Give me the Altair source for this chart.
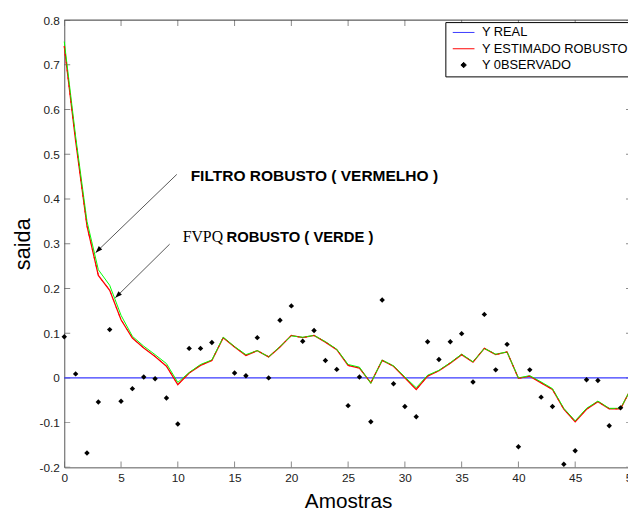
import altair as alt
import pandas as pd

# ---------------- data ----------------
x_vals = list(range(51))
red_vals = [0.742, 0.530, 0.340, 0.229, 0.196, 0.130, 0.089, 0.067, 0.048, 0.026,
            -0.015, 0.011, 0.028, 0.039, 0.090, 0.069, 0.050, 0.061, 0.047, 0.069,
            0.095, 0.090, 0.095, 0.080, 0.063, 0.028, 0.022, -0.011, 0.039, 0.026,
            0.000, -0.026, 0.004, 0.016, 0.033, 0.052, 0.035, 0.066, 0.052, 0.058,
            -0.001, 0.004, -0.011, -0.026, -0.070, -0.098, -0.070, -0.053, -0.069, -0.069,
            -0.020]
green_vals = [0.752, 0.540, 0.350, 0.242, 0.207, 0.140, 0.093, 0.071, 0.052, 0.032,
              -0.010, 0.012, 0.030, 0.040, 0.091, 0.070, 0.052, 0.061, 0.047, 0.070,
              0.094, 0.091, 0.095, 0.081, 0.064, 0.030, 0.024, -0.012, 0.040, 0.027,
              0.002, -0.022, 0.006, 0.017, 0.034, 0.053, 0.036, 0.066, 0.053, 0.058,
              0.000, 0.005, -0.009, -0.024, -0.068, -0.096, -0.068, -0.052, -0.068, -0.068,
              -0.020]
real_vals = [0.0] * 51
obs_x = [0, 1, 2, 3, 4, 5, 6, 7, 8, 9, 10, 11, 12, 13,
         15, 16, 17, 18, 19, 20, 21, 22, 23, 24, 25, 26, 27, 28, 29, 30,
         31, 32, 33, 34, 35, 36, 37, 38, 39, 40, 41, 42, 43, 44, 45, 46, 47, 48, 49]
obs_y = [0.092, 0.009, -0.168, -0.054, 0.108, -0.052, -0.024, 0.002, -0.002, -0.045,
         -0.103, 0.066, 0.066, 0.079,
         0.011, 0.005, 0.090, 0.000, 0.129, 0.161, 0.082, 0.106, 0.039, 0.019,
         -0.062, 0.002, -0.098, 0.174, -0.013, -0.064, -0.087, 0.081, 0.041, 0.081,
         0.099, -0.009, 0.142, 0.018, 0.075, -0.154, 0.018, -0.043, -0.064, -0.193,
         -0.163, -0.004, -0.006, -0.107, -0.067]
x_ticks = [0, 5, 10, 15, 20, 25, 30, 35, 40, 45, 50]
y_ticks = [-0.2, -0.1, 0.0, 0.1, 0.2, 0.3, 0.4, 0.5, 0.6, 0.7, 0.8]

series_names = ["Y REAL", "Y ESTIMADO ROBUSTO", "Y 0BSERVADO"]
series_colors = ["#3a3aff", "#ff0000", "#000000"]
LINE_SYM = "M-2,0L2,0"
DOT = "M0,-0.5L0.5,0L0,0.5L-0.5,0Z"
series_shapes = [LINE_SYM, LINE_SYM, DOT]

note_x = [11.13, 14.29]
note_y = [0.451, 0.315]
note_text = ["FILTRO ROBUSTO ( VERMELHO )", "ROBUSTO ( VERDE )"]
note_size = [15.7, 15]
fvpq_x = [10.43]
fvpq_y = [0.315]
fvpq_text = ["FVPQ"]
arrow_x = [9.91, 9.28]
arrow_y = [0.455, 0.299]
arrow_x2 = [2.76, 4.49]
arrow_y2 = [0.280, 0.179]

# ---------------- tables ----------------
lines_df = pd.DataFrame({
    "x": x_vals * 2,
    "y": real_vals + red_vals,
    "serie": [series_names[0]] * 51 + [series_names[1]] * 51,
})
green_df = pd.DataFrame({"x": x_vals, "y": green_vals})
obs_df = pd.DataFrame({"x": obs_x, "y": obs_y, "serie": [series_names[2]] * len(obs_x)})
xt_df = pd.DataFrame({"x": x_ticks * 2, "y": [-0.2] * len(x_ticks) + [0.8] * len(x_ticks)})
yt_df = pd.DataFrame({"x": [0] * len(y_ticks) + [50] * len(y_ticks), "y": y_ticks * 2})
note_df = pd.DataFrame({"x": note_x, "y": note_y, "t": note_text, "s": note_size})
fvpq_df = pd.DataFrame({"x": fvpq_x, "y": fvpq_y, "t": fvpq_text})
arrow_df = pd.DataFrame({"x": arrow_x, "y": arrow_y, "x2": arrow_x2, "y2": arrow_y2})
head_df = pd.DataFrame({"x": arrow_x2, "y": arrow_y2})

FONT = "Liberation Sans"

x_scale = alt.Scale(domain=[0, 50], range=[0, 575], nice=False, zero=False)
y_scale = alt.Scale(domain=[-0.2, 0.8], nice=False, zero=False)

x_enc = alt.X("x:Q", scale=x_scale,
              axis=alt.Axis(values=x_ticks, title="Amostras", grid=False, ticks=False,
                            labelFont=FONT, labelFontSize=12, labelColor="#222",
                            labelPadding=5, titleFont=FONT, titleFontSize=21,
                            titleFontWeight="normal", titleColor="#000", titlePadding=8,
                            domainColor="#555", labelFlush=False))
y_enc = alt.Y("y:Q", scale=y_scale,
              axis=alt.Axis(values=y_ticks, title="saida", grid=False, ticks=False,
                            labelExpr="'' + round(datum.value * 10) / 10",
                            labelFont=FONT, labelFontSize=12, labelColor="#222",
                            labelPadding=5, titleFont=FONT, titleFontSize=22,
                            titleFontWeight="normal", titleColor="#000", titlePadding=5,
                            domainColor="#555", labelFlush=False))


def make_legend():
    return alt.Legend(
        title=None, orient="none", legendX=386, legendY=2,
        fillColor="white", strokeColor="black", padding=4, cornerRadius=0,
        labelFont=FONT, labelFontSize=13, labelColor="black",
        symbolSize=121, symbolStrokeWidth=1, symbolOffset=8, labelOffset=12,
        rowPadding=2.5,
    )


color_enc = alt.Color("serie:N", scale=alt.Scale(domain=series_names, range=series_colors),
                      legend=make_legend())
shape_enc = alt.Shape("serie:N", scale=alt.Scale(domain=series_names, range=series_shapes),
                      legend=make_legend())

lines = alt.Chart(lines_df).mark_line(strokeWidth=1.3).encode(x=x_enc, y=y_enc, color=color_enc)
green = alt.Chart(green_df).mark_line(strokeWidth=1, color="#00ff00").encode(x=x_enc, y=y_enc)
red_top = alt.Chart(lines_df).transform_filter(alt.datum.serie == series_names[1]).mark_line(
    strokeWidth=1, strokeDash=[2, 6], color="#ff0000").encode(x=x_enc, y=y_enc)
points = alt.Chart(obs_df).mark_point(filled=True, opacity=1, size=121, strokeWidth=1).encode(
    x=x_enc, y=y_enc, color=color_enc, shape=shape_enc)

xticks = alt.Chart(xt_df).mark_tick(orient="vertical", size=12, thickness=1, color="#555",
                                    clip=True).encode(x=x_enc, y=y_enc)
yticks = alt.Chart(yt_df).mark_tick(orient="horizontal", size=12, thickness=1, color="#555",
                                    clip=True).encode(x=x_enc, y=y_enc)
top_border = alt.Chart(pd.DataFrame({"y": [0.8]})).mark_rule(color="#333", strokeWidth=1).encode(y=y_enc)

arrows = alt.Chart(arrow_df).mark_rule(color="#555", strokeWidth=1).encode(
    x=x_enc, y=y_enc, x2="x2:Q", y2="y2:Q")
heads = alt.Chart(head_df).mark_point(shape="M0,0L0.35,1L-0.35,1Z", filled=True, size=196,
                                      angle=225, color="black", opacity=1).encode(x=x_enc, y=y_enc)
notes = alt.Chart(note_df).mark_text(align="left", baseline="middle", font=FONT,
                                     fontWeight="bold", color="black").encode(
    x=x_enc, y=y_enc, text="t:N", size=alt.Size("s:Q", scale=None, legend=None))
fvpq = alt.Chart(fvpq_df).mark_text(align="left", baseline="middle", font="Liberation Serif",
                                    fontSize=16, color="black").encode(x=x_enc, y=y_enc, text="t:N")

chart = alt.layer(
    xticks, yticks, top_border, lines, green, red_top, points, arrows, heads, notes, fvpq
).properties(
    width=571, height=453,
    autosize=alt.AutoSizeParams(type="none"),
    padding={"left": 57, "top": 9, "right": 0, "bottom": 46},
    background="white",
).configure_view(stroke=None)

chart.save("out.html", embed_options={"renderer": "svg", "actions": False})
